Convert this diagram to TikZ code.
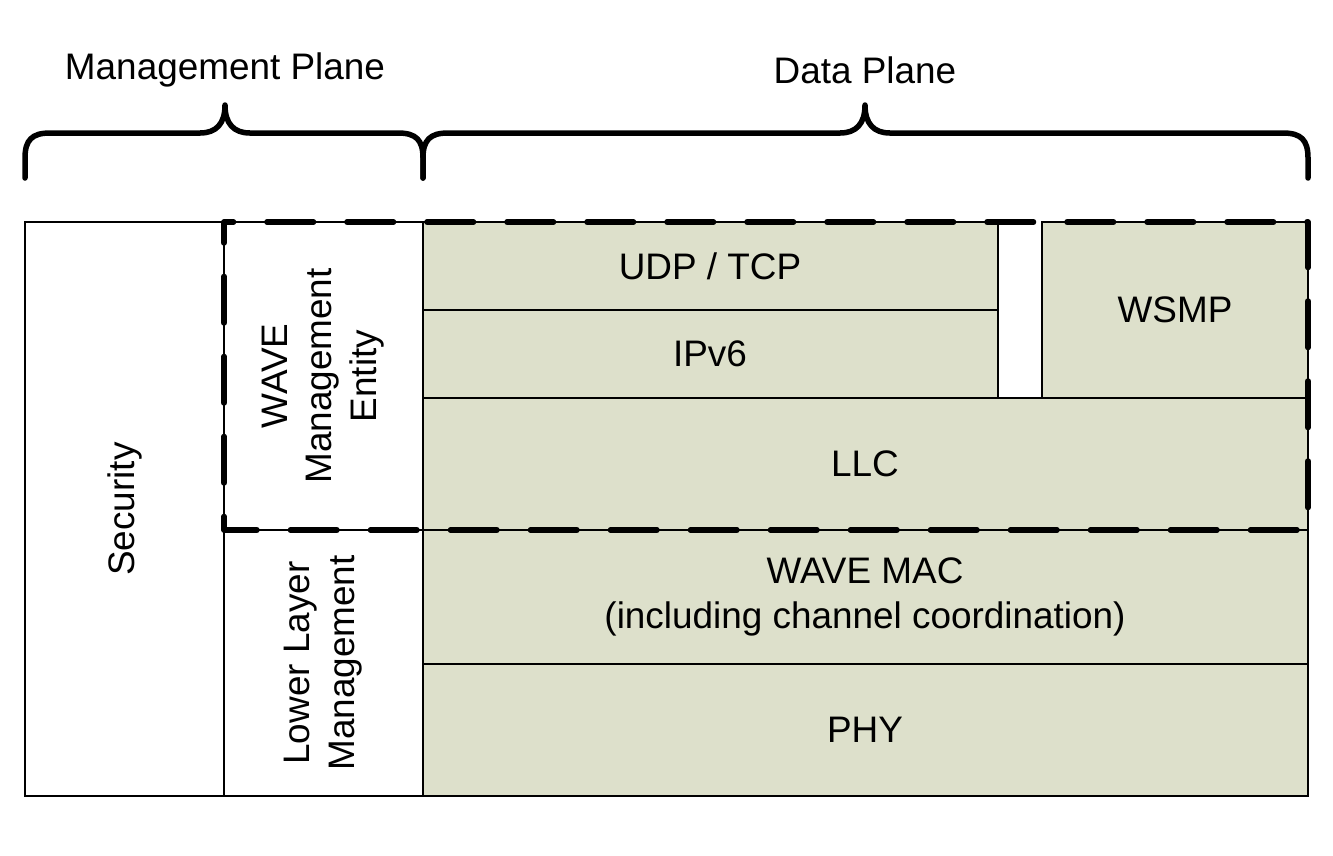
\documentclass[tikz,border=0pt]{standalone}
\usepackage{fontspec}
\setmainfont{Liberation Sans}
\definecolor{layerfill}{RGB}{221,224,203}

\begin{document}
\begin{tikzpicture}[x=0.2mm, y=-0.2mm,
    every node/.style={font=\fontsize{21}{25.5}\selectfont, align=center},
    layer/.style={draw=black, line width=0.6pt, fill=layerfill},
    plainbox/.style={draw=black, line width=0.6pt, fill=white},
    planedash/.style={line width=1.1mm, line cap=round, line join=round, dash pattern=on 9.3mm off 6.7mm, dash phase=7.4mm},
    braceline/.style={line width=1.1mm, line cap=round, line join=round}]

      \useasboundingbox (0,0) rectangle (1333,855);

      % Management columns
      \draw[plainbox] (25,222) rectangle (224,796);
      \draw[plainbox] (224,222) rectangle (423,530);
      \draw[plainbox] (224,530) rectangle (423,796);
      \node[rotate=90] (sec) at (125,509) {Security};
      \node[rotate=90] (wme) at (323,376) {WAVE\\Management\\Entity};
      \node[rotate=90] (llm) at (323,663) {Lower Layer\\Management};

      % Data plane layers
      \draw[layer] (423,222) rectangle (998,310);
      \node (udp) at (710,266) {UDP / TCP};
      \draw[layer] (423,310) rectangle (998,398);
      \node (ipv6) at (710,354) {IPv6};
      \draw[layer] (1042,222) rectangle (1308,398);
      \node (wsmp) at (1175,310) {WSMP};
      \draw[layer] (423,398) rectangle (1308,530);
      \node (llc) at (865,464) {LLC};
      \draw[layer] (423,530) rectangle (1308,664);
      \node (mac) at (865,597) {WAVE MAC\\(including channel coordination)};
      \draw[layer] (423,664) rectangle (1308,796);
      \node (phy) at (865,730) {PHY};

      % WAVE part
      \draw[planedash] (224,222) -- (1308,222) -- (1308,530) -- (224,530) -- cycle;

      % Planes
      \draw[braceline] (25,178) -- (25,158) .. controls (25,140) and (32,133) .. (50,133)
        -- (200,133) .. controls (216,133) and (225,124) .. (225,105)
        .. controls (225,124) and (234,133) .. (250,133)
        -- (398,133) .. controls (416,133) and (423,140) .. (423,158) -- (423,178);
      \draw[braceline] (423,178) -- (423,158) .. controls (423,140) and (430,133) .. (448,133)
        -- (840,133) .. controls (856,133) and (865,124) .. (865,105)
        .. controls (865,124) and (874,133) .. (890,133)
        -- (1283,133) .. controls (1301,133) and (1308,140) .. (1308,158) -- (1308,178);
      \node (mp) at (225,70) {Management Plane};
      \node (dp) at (865,70) {Data Plane};

\end{tikzpicture}
\end{document}
